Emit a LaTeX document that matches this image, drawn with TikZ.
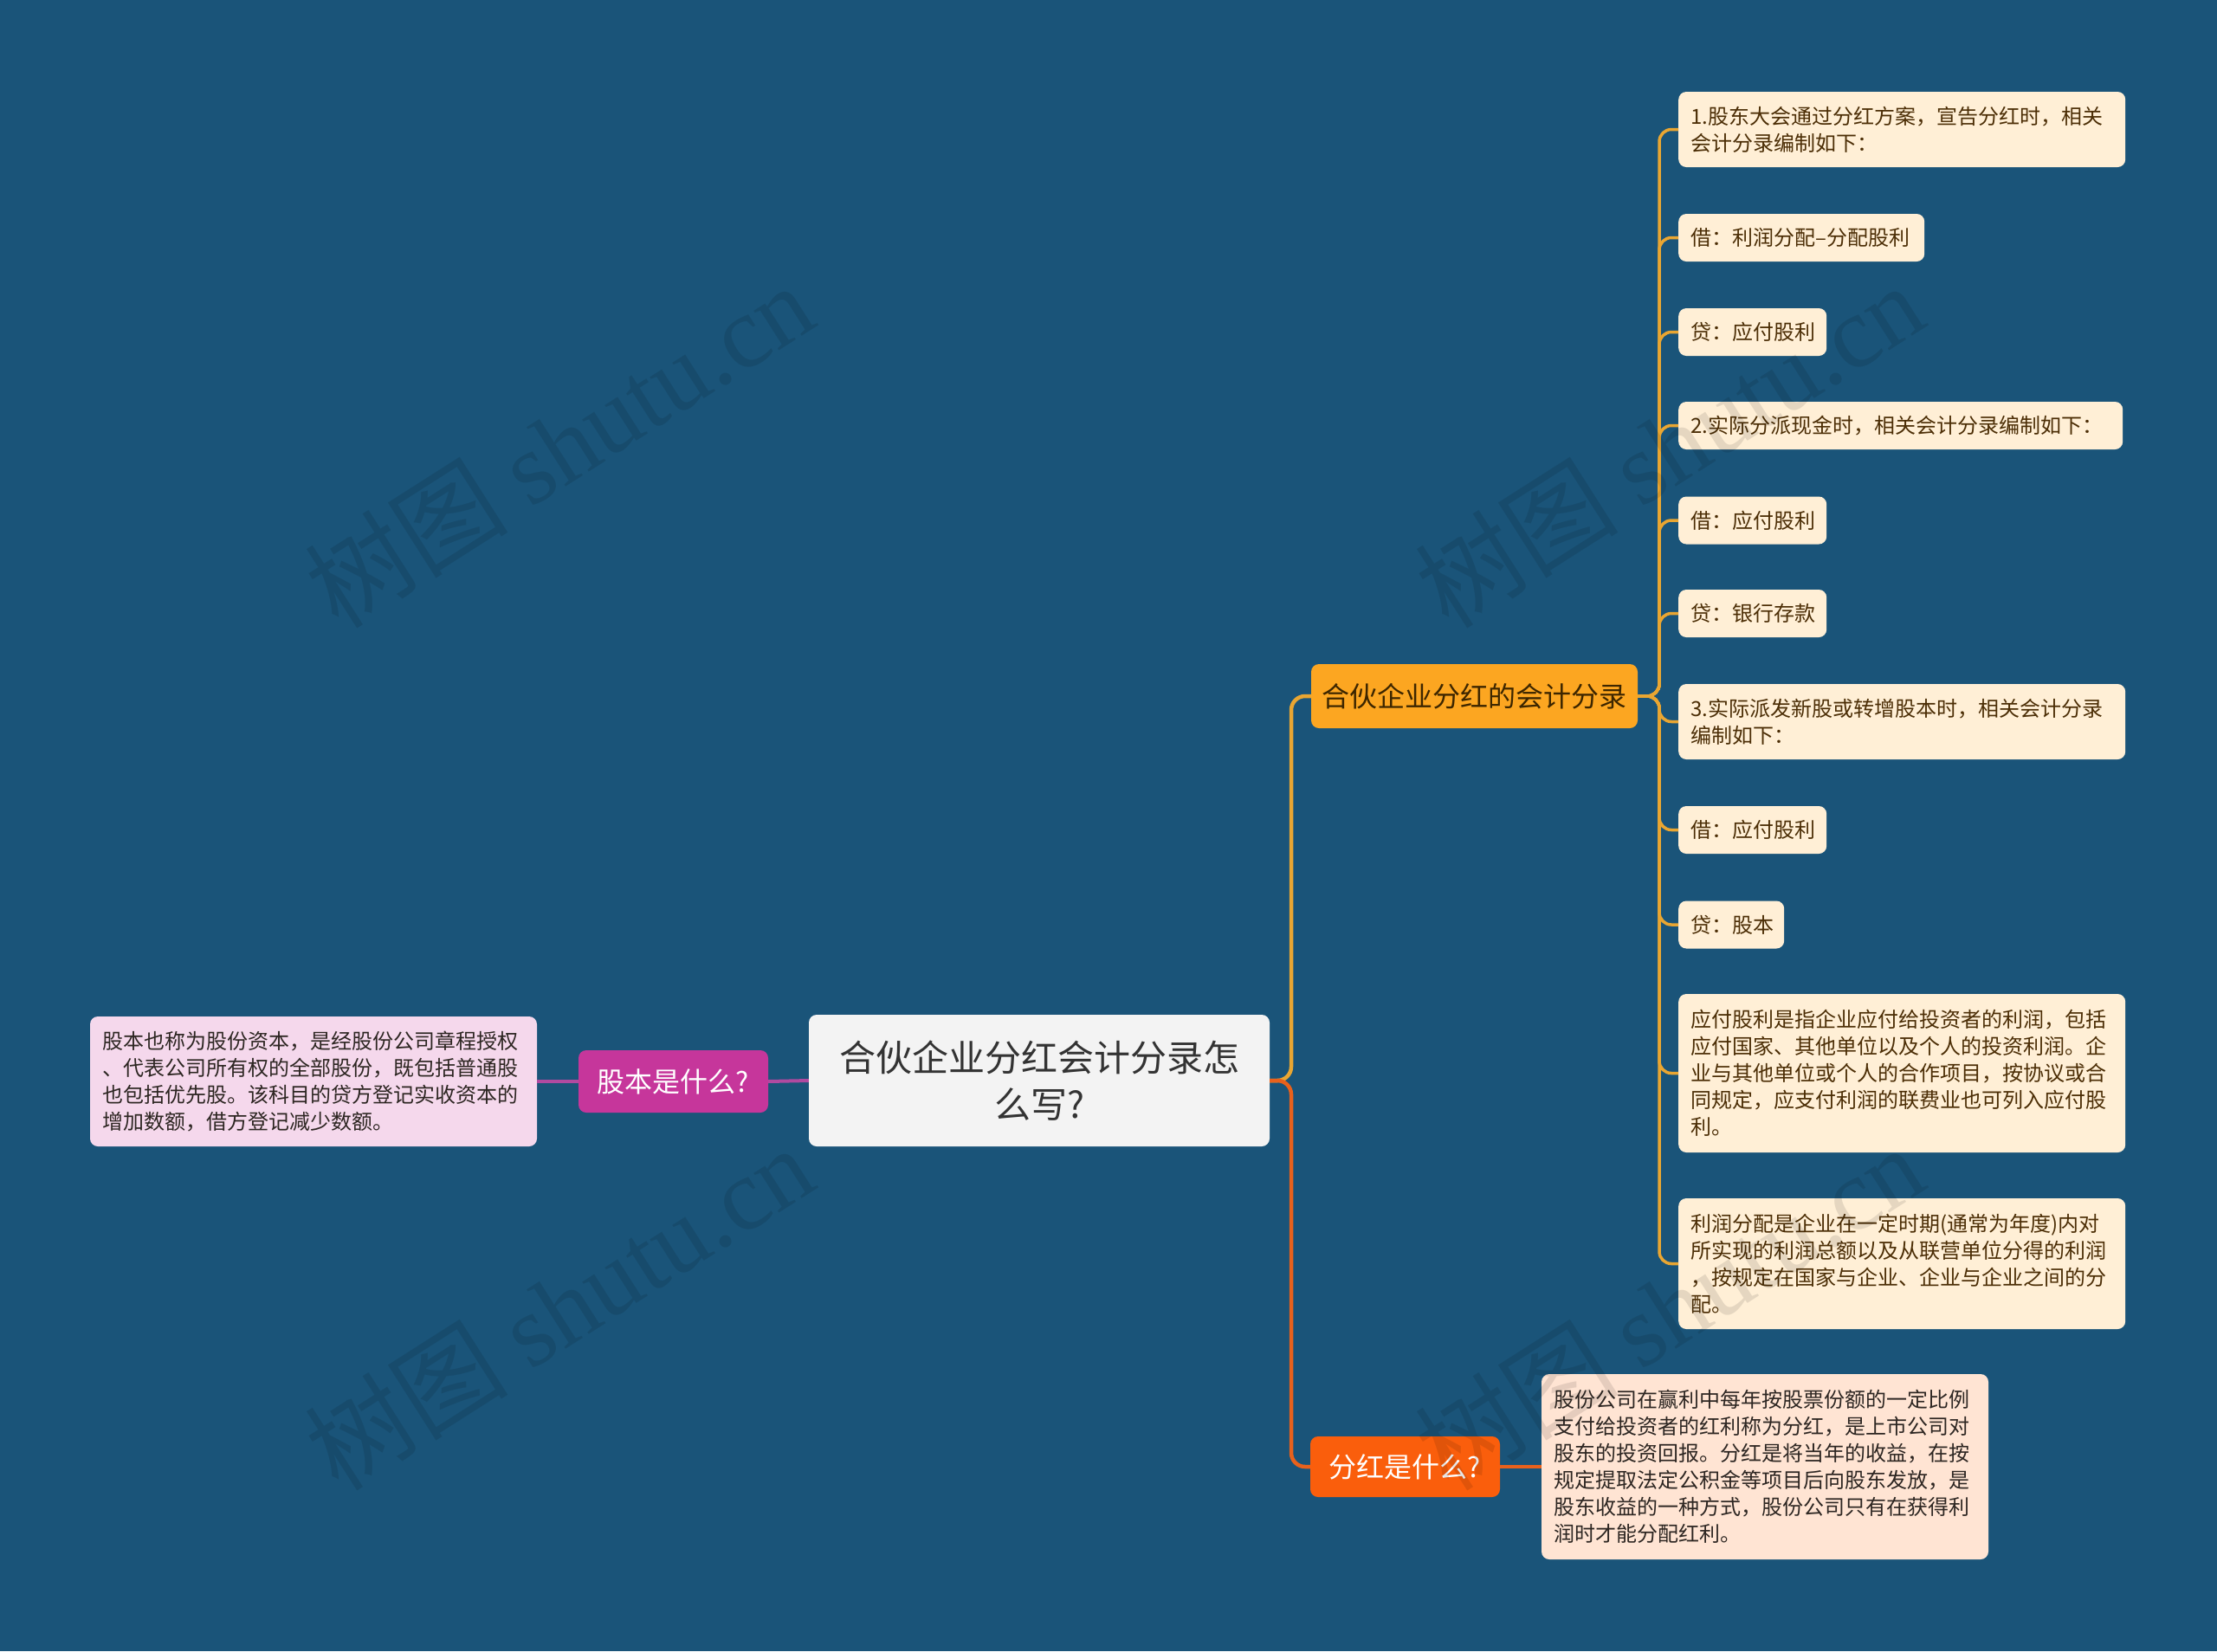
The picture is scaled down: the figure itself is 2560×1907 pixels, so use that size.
\documentclass[tikz,border=0pt]{standalone}
\usepackage{fontspec}
\setmainfont{Noto Sans CJK SC}
\newfontfamily\wmlatin{Liberation Serif}
\definecolor{bg}{RGB}{26,84,121}
\definecolor{rootfill}{RGB}{243,243,243}
\definecolor{roottext}{RGB}{51,51,51}
\definecolor{gbfill}{RGB}{198,54,155}
\definecolor{lbfill}{RGB}{245,216,236}
\definecolor{hhfill}{RGB}{252,166,33}
\definecolor{hhtext}{RGB}{61,38,0}
\definecolor{fhfill}{RGB}{250,94,12}
\definecolor{fbfill}{RGB}{255,228,211}
\definecolor{leaffill}{RGB}{255,239,214}
\definecolor{leaftext}{RGB}{76,46,6}
\definecolor{darktext}{RGB}{45,38,34}
\definecolor{yline}{RGB}{233,166,50}
\definecolor{oline}{RGB}{232,97,28}
\definecolor{mline}{RGB}{176,74,160}
\begin{document}
\begin{tikzpicture}[x=1pt,y=-1pt,
  box/.style={rounded corners=9pt, inner ysep=0pt},
  leaf/.style={box, fill=leaffill, text=leaftext, anchor=west, align=left,
    inner xsep=14pt, font=\fontsize{24}{31}\selectfont},
  branchnode/.style={box, inner xsep=0pt, align=center, font=\fontsize{32}{40}\selectfont},
  note/.style={box, align=left, inner xsep=14pt, text width=488pt, minimum height=#1,
    font=\fontsize{24}{31}\selectfont},
  ybr/.style={draw=yline, line width=4.5pt, rounded corners=16pt},
  obr/.style={draw=oline, line width=4.5pt, rounded corners=16pt},
  ylf/.style={draw=yline, line width=3.5pt, rounded corners=14pt},
  mbr/.style={draw=mline, line width=4pt},
  wm/.style={rotate=32.5, text=black, opacity=0.10, font=\fontsize{118}{118}\selectfont}
]
\fill[bg] (0,0) rectangle (2560,1907);
\useasboundingbox (0,0) rectangle (2560,1907);

% root
\node[box, fill=rootfill, text=roottext, align=center, minimum width=532pt, minimum height=152pt,
  font=\fontsize{42}{54}\selectfont] (root) at (1200,1248) {合伙企业分红会计分录怎\\么写?};

% left branch
\node[branchnode, fill=gbfill, text=white, minimum width=219pt, minimum height=72pt] (gb) at (777.5,1249) {股本是什么?};
\node[note=150pt, fill=lbfill, text=darktext] (lb) at (362,1249)
  {股本也称为股份资本，是经股份公司章程授权\\、代表公司所有权的全部股份，既包括普通股\\也包括优先股。该科目的贷方登记实收资本的\\增加数额，借方登记减少数额。};

% right branches
\node[branchnode, fill=hhfill, text=hhtext, minimum width=377pt, minimum height=74pt] (hh) at (1702.5,804) {合伙企业分红的会计分录};
\node[branchnode, fill=fhfill, text=white, minimum width=219pt, minimum height=70pt] (fh) at (1622.5,1694) {分红是什么?};
\node[note=214pt, fill=fbfill, text=darktext] (fb) at (2038,1694)
  {股份公司在赢利中每年按股票份额的一定比例\\支付给投资者的红利称为分红，是上市公司对\\股东的投资回报。分红是将当年的收益，在按\\规定提取法定公积金等项目后向股东发放，是\\股东收益的一种方式，股份公司只有在获得利\\润时才能分配红利。};

% leaves
\node[leaf, text width=488pt, minimum height=87pt] (l1) at (1938,149.5) {1.股东大会通过分红方案，宣告分红时，相关\\会计分录编制如下：};
\node[leaf, text width=256pt, minimum height=55pt] (l2) at (1938,274.5) {借：利润分配–分配股利};
\node[leaf, text width=143pt, minimum height=55pt] (l3) at (1938,383.5) {贷：应付股利};
\node[leaf, text width=485pt, minimum height=55pt] (l4) at (1938,491.5) {2.实际分派现金时，相关会计分录编制如下：};
\node[leaf, text width=143pt, minimum height=55pt] (l5) at (1938,601) {借：应付股利};
\node[leaf, text width=143pt, minimum height=55pt] (l6) at (1938,708.5) {贷：银行存款};
\node[leaf, text width=488pt, minimum height=87pt] (l7) at (1938,833.5) {3.实际派发新股或转增股本时，相关会计分录\\编制如下：};
\node[leaf, text width=143pt, minimum height=55pt] (l8) at (1938,958.5) {借：应付股利};
\node[leaf, text width=94pt, minimum height=55pt] (l9) at (1938,1068) {贷：股本};
\node[leaf, text width=488pt, minimum height=183pt] (l10) at (1938,1239.5)
  {应付股利是指企业应付给投资者的利润，包括\\应付国家、其他单位以及个人的投资利润。企\\业与其他单位或个人的合作项目，按协议或合\\同规定，应支付利润的联费业也可列入应付股\\利。};
\node[leaf, text width=488pt, minimum height=151pt] (l11) at (1938,1459.5)
  {利润分配是企业在一定时期(通常为年度)内对\\所实现的利润总额以及从联营单位分得的利润\\，按规定在国家与企业、企业与企业之间的分\\配。};

% junctions
\coordinate (rj) at (1491,1248);
\coordinate (lj) at (1916,804);

% connectors
\draw[ybr] (root.east) -- (rj) |- (hh.west);
\draw[obr] (root.east) -- (rj) |- (fh.west);
\draw[obr] (fh.east) -- (fb.west);
\draw[mbr] (root.west) -- (gb.east);
\draw[mbr] (gb.west) -- (lb.east);
\foreach \n in {l1,l2,l3,l4,l5,l6,l7,l8,l9,l10,l11}{
  \draw[ylf] (hh.east) -- (lj) |- (\n.west);
}

% watermarks
\node[wm] (wm1) at (645,514) {树图 {\wmlatin shutu.cn}};
\node[wm] (wm2) at (1927,514) {树图 {\wmlatin shutu.cn}};
\node[wm] (wm3) at (645,1510) {树图 {\wmlatin shutu.cn}};
\node[wm] (wm4) at (1927,1510) {树图 {\wmlatin shutu.cn}};
\end{tikzpicture}
\end{document}
